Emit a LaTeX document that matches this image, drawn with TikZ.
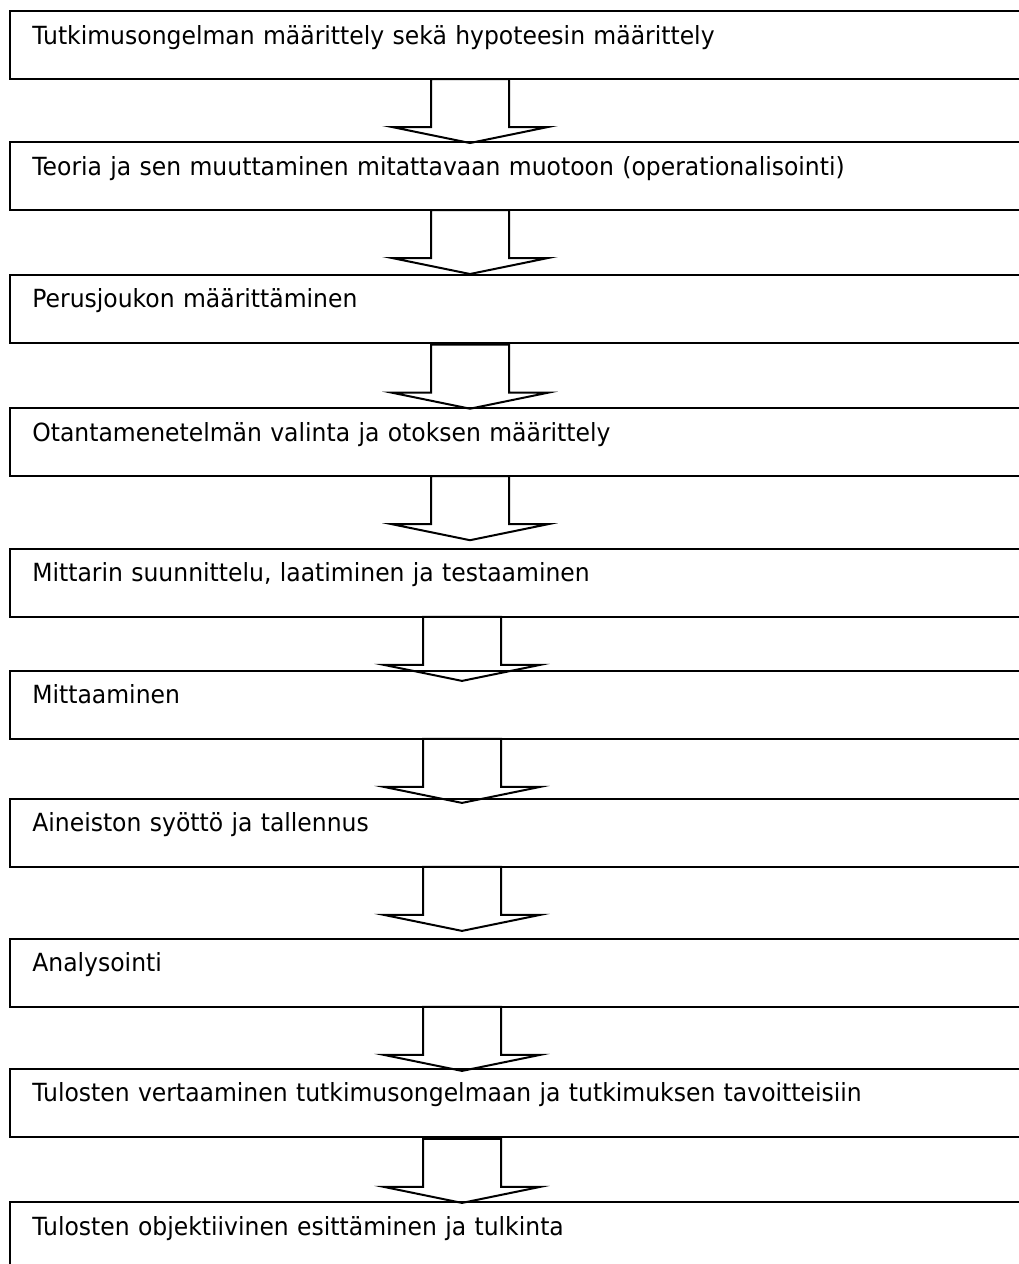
\documentclass[tikz,border=0pt]{standalone}
\usepackage{fontspec}
\setmainfont{DejaVu Sans}[FakeStretch=0.94]
\usetikzlibrary{positioning,calc}

\begin{document}
\begin{tikzpicture}[x=1pt,y=-1pt,font=\fontsize{25}{30}\selectfont,
    box/.style={draw=black,line width=2pt,anchor=north west,outer sep=0pt,
                inner xsep=22.3pt,inner ysep=0pt,text width=1000pt,align=left,
                text height=33pt,text depth=35pt},
    flow/.style={draw=black,line width=2pt,line join=miter}]
  \useasboundingbox (0,0) rectangle (1019,1264);
  \clip (0,0) rectangle (1019,1264);
  \node[box] (b1) at (10,11) {Tutkimusongelman määrittely sekä hypoteesin määrittely};
  \node[box,below=63pt of b1] (b2) {Teoria ja sen muuttaminen mitattavaan muotoon (operationalisointi)};
  \node[box,below=64.7pt of b2] (b3) {Perusjoukon määrittäminen};
  \node[box,below=65.5pt of b3] (b4) {Otantamenetelmän valinta ja otoksen määrittely};
  \node[box,below=72.7pt of b4] (b5) {Mittarin suunnittelu, laatiminen ja testaaminen};
  \node[box,below=54pt of b5] (b6) {Mittaaminen};
  \node[box,below=60pt of b6] (b7) {Aineiston syöttö ja tallennus};
  \node[box,below=72pt of b7] (b8) {Analysointi};
  \node[box,below=62pt of b8] (b9) {Tulosten vertaaminen tutkimusongelmaan ja tutkimuksen tavoitteisiin};
  \node[box,below=65.3pt of b9] (b10) {Tulosten objektiivinen esittäminen ja tulkinta};
  % block arrows between the steps
  \foreach \a/\cx/\dy in {b1/460/0,b2/460/0,b3/460/2,b4/460/0,b5/452/0,
                          b6/452/0,b7/452/0,b8/452/0,b9/452/2}
    \draw[flow] ($(\a.south west)+(\cx-39,\dy)$) -- ++(0,48) -- ++(-39,0)
      -- ++(78,16) -- ++(78,-16) -- ++(-39,0) -- ++(0,-48) -- cycle;
\end{tikzpicture}
\end{document}
